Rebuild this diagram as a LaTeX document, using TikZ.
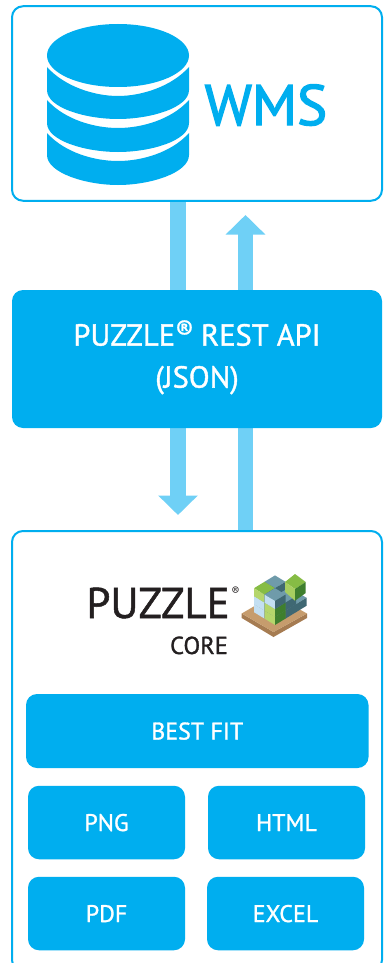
\documentclass[tikz,border=0pt]{standalone}
\usepackage{fontspec}
\setmainfont{PT Sans}
\newfontfamily\heavyfont{PT Sans}[FakeBold=1.2]
\newfontfamily\wmsfont{PT Sans}[FakeBold=2.2]
\usetikzlibrary{arrows.meta}
\definecolor{pblue}{HTML}{00AEEF}
\definecolor{parrow}{HTML}{6FD0F6}
\definecolor{pdark}{HTML}{231F20}
\definecolor{tealtop}{HTML}{6F9BAA}
\definecolor{tealdark}{HTML}{3F6873}
\definecolor{ltblue}{HTML}{C3DFF2}
\definecolor{ltgreen}{HTML}{B5D66B}
\definecolor{midgreen}{HTML}{86BC45}
\definecolor{dkgreen}{HTML}{3F7F2E}
\definecolor{tan}{HTML}{C69C6D}
\definecolor{tandark}{HTML}{A67C52}
\tikzset{
  x=1pt,y=-1pt,
  outlinebox/.style={draw=pblue,line width=2pt,fill=white,rounded corners=11pt,rectangle,inner sep=0pt},
  solidbox/.style={fill=pblue,text=white,rounded corners=11pt,rectangle,inner sep=0pt,align=center},
  smallbox/.style={solidbox,font=\heavyfont\fontsize{24}{30}\selectfont,text height=17pt,text depth=0pt},
  flowarrow/.style={draw=parrow,line width=15.5pt,-{Triangle[length=19.5pt,width=38.5pt,fill=parrow]}},
  dbband/.style={fill=pblue,draw=none},
}
\newcommand{\isocube}[6]{%
  % #1 a, #2 b, #3 c, #4 top, #5 left face, #6 right face
  \pgfmathsetmacro{\ca}{#1}\pgfmathsetmacro{\cb}{#2}\pgfmathsetmacro{\cc}{#3}
  \pgfmathsetmacro{\px}{275+10.5*(\ca-\cb)}
  \pgfmathsetmacro{\py}{625-6.4*(\ca+\cb)-8*\cc}
  \fill[#4] (\px,\py-8) -- ++(10.5,-6.4) -- ++(-10.5,-6.4) -- ++(-10.5,6.4) -- cycle;
  \fill[#5] (\px,\py) -- (\px,\py-8) -- ++(-10.5,-6.4) -- ++(0,8) -- cycle;
  \fill[#6] (\px,\py) -- (\px,\py-8) -- ++(10.5,-6.4) -- ++(0,8) -- cycle;
}
\begin{document}
\begin{tikzpicture}
\useasboundingbox (0,0) rectangle (388,963);
% outline boxes
\node[outlinebox,minimum width=370pt,minimum height=194.5pt] (wms) at (197,103.5) {};
\node[outlinebox,minimum width=370pt,minimum height=440pt] (core) at (197,751) {};
% connectors
\coordinate (downtip) at (178,515);
\coordinate (uptip) at (245.5,215);
\draw[flowarrow] (downtip |- wms.south) -- (downtip);
\draw[flowarrow] (uptip |- core.north) -- (uptip);
% API
\node[solidbox,minimum width=370pt,minimum height=138pt,font=\heavyfont\fontsize{30.5}{42}\selectfont] (api) at (197,359)
  {PUZZLE\raisebox{6pt}{\fontsize{27}{27}\selectfont®}\kern-1pt{} REST API\\(JSON)\rule[-10pt]{0pt}{10pt}};
% database icon
\fill[dbband] (118,55.5) ellipse [x radius=71,y radius=31.5];
\foreach \st/\ct/\sb/\cb in {67/96/90/119,100/128/123/152,133/161/155/185}{
  \fill[dbband] (47,\st) .. controls (65,\st+20) and (95,\ct) .. (118,\ct) .. controls (141,\ct) and (171,\st+20) .. (189,\st)
     -- (189,\sb) .. controls (189,\sb+18) and (150,\cb) .. (118,\cb) .. controls (86,\cb) and (47,\sb+18) .. (47,\sb) -- cycle;
}
\node[text=pblue,font=\wmsfont\fontsize{57}{57}\selectfont,anchor=base,inner sep=0pt] (wmstext) at (266,125) {WMS};
% logo text
\node[text=pdark,font=\heavyfont\fontsize{43}{43}\selectfont,anchor=base,inner sep=0pt] (puzzle) at (158,618) {PUZZLE};
\node[text=pdark,font=\fontsize{12}{12}\selectfont,anchor=center,inner sep=0pt] (reg) at (235.5,591.5) {®};
\node[text=pdark,font=\heavyfont\fontsize{24.5}{25}\selectfont,anchor=base,inner sep=0pt] (coretext) at (199,654) {CORE};
% pallet
\fill[tandark] (241.7,613.5) -- (273.5,632) -- (307,613.5) -- (307,618) -- (273.5,637) -- (241.7,618) -- cycle;
\fill[tan] (241.7,613.5) -- (273.5,595) -- (307,613.5) -- (273.5,632) -- cycle;
% pile of cubes, back to front
\isocube{1}{1}{0}{tealtop}{tealdark}{tealdark}
\isocube{1}{1}{1}{tealtop}{tealdark}{tealdark}
\isocube{1}{1}{2}{tealtop}{tealdark}{tealdark}
\isocube{0}{1}{0}{tealtop}{ltblue}{tealdark}
\isocube{0}{1}{1}{tealtop}{ltblue}{tealdark}
\isocube{0}{1}{2}{midgreen}{ltgreen}{tealdark}
\isocube{2}{0}{0}{tealtop}{tealdark}{tealdark}
\isocube{1}{0}{0}{tealtop}{tealdark}{tealdark}
\isocube{1}{0}{1}{tealtop}{tealdark}{tealdark}
\isocube{0}{0}{0}{tealtop}{ltgreen}{dkgreen}
\isocube{0}{0}{1}{tealtop}{ltgreen}{dkgreen}
\isocube{0}{0}{2}{tealtop}{ltblue}{tealdark}
% loose piece
\fill[midgreen] (285,582) -- (295,574) -- (305.7,582) -- (295,589) -- cycle;
\fill[ltgreen!70!midgreen] (285,582) -- (295,589) -- (295,600.7) -- (285,592) -- cycle;
\fill[dkgreen] (295,589) -- (305.7,582) -- (305.7,593) -- (295,600.7) -- cycle;
% inner boxes
\node[smallbox,minimum width=342.5pt,minimum height=74pt] (bestfit) at (197.25,731) {BEST FIT};
\node[smallbox,minimum width=157pt,minimum height=73.5pt] (png) at (106.5,822.5) {PNG};
\node[smallbox,minimum width=157pt,minimum height=73.5pt] (html) at (286.5,822.5) {HTML};
\node[smallbox,minimum width=157pt,minimum height=73.5pt] (pdf) at (106.5,913.5) {PDF};
\node[smallbox,minimum width=157pt,minimum height=73.5pt] (excel) at (285.5,913.5) {EXCEL};
\end{tikzpicture}
\end{document}
